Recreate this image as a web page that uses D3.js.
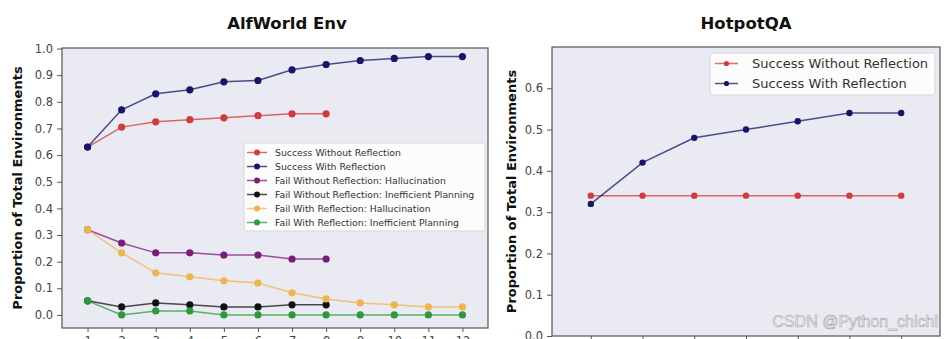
<!DOCTYPE html>
<html lang="en">

<head>
    <meta charset="UTF-8">
    <title>Reflection results</title>
    <script src="https://cdn.jsdelivr.net/npm/d3@7"></script>
    <style>
        body { margin: 0; background: #fff; }
        svg { display: block; font-family: "DejaVu Sans", sans-serif; }
    </style>
</head>

<body>
    <script>
    var width = 946;
    var height = 339;

    // AlfWorld trials 1..12
    var alfTrials = [1, 2, 3, 4, 5, 6, 7, 8, 9, 10, 11, 12];
    var alfSuccessNoRefl = [0.63, 0.705, 0.725, 0.733, 0.74, 0.748, 0.755, 0.755];
    var alfSuccessRefl = [0.63, 0.77, 0.83, 0.845, 0.875, 0.88, 0.92, 0.94, 0.955, 0.963, 0.97, 0.97];
    var alfFailNoReflHalluc = [0.32, 0.27, 0.233, 0.233, 0.225, 0.225, 0.21, 0.21];
    var alfFailNoReflPlan = [0.053, 0.03, 0.045, 0.038, 0.03, 0.03, 0.038, 0.038];
    var alfFailReflHalluc = [0.32, 0.233, 0.158, 0.143, 0.128, 0.12, 0.083, 0.06, 0.045, 0.038, 0.03, 0.03];
    var alfFailReflPlan = [0.053, 0, 0.015, 0.015, 0, 0, 0, 0, 0, 0, 0, 0];
    var alfYTicks = [0.0, 0.1, 0.2, 0.3, 0.4, 0.5, 0.6, 0.7, 0.8, 0.9, 1.0];

    // HotpotQA trials 1..7
    var hotTrials = [1, 2, 3, 4, 5, 6, 7];
    var hotSuccessNoRefl = [0.34, 0.34, 0.34, 0.34, 0.34, 0.34, 0.34];
    var hotSuccessRefl = [0.32, 0.42, 0.48, 0.50, 0.52, 0.54, 0.54];
    var hotYTicks = [0.0, 0.1, 0.2, 0.3, 0.4, 0.5, 0.6];

    var colors = {
        red: '#d23b3b',
        navy: '#15156a',
        purple: '#7b1b7b',
        black: '#111111',
        gold: '#f0b44e',
        green: '#2c9a3c'
    };

    var svg = d3.select('body')
        .append('svg')
        .attr('width', width)
        .attr('height', height);

    // draw one panel: frame, axes, series, legend
    function panel(opt) {
        var x = d3.scaleLinear().domain(opt.xDomain).range([opt.left, opt.right]);
        var y = d3.scaleLinear().domain(opt.yDomain).range([opt.bottom, opt.top]);
        var g = svg.append('g');

        g.append('rect')
            .attr('x', opt.left)
            .attr('y', opt.top)
            .attr('width', opt.right - opt.left)
            .attr('height', opt.bottom - opt.top)
            .attr('fill', '#eaeaf2');

        var yAxis = g.append('g')
            .attr('transform', 'translate(' + opt.left + ',0)')
            .call(d3.axisLeft(y).tickValues(opt.yTicks).tickFormat(d3.format('.1f')).tickSize(5).tickPadding(4));
        var xAxis = g.append('g')
            .attr('transform', 'translate(0,' + opt.bottom + ')')
            .call(d3.axisBottom(x).tickValues(opt.xTicks).tickSize(4).tickPadding(5));
        [yAxis, xAxis].forEach(function(a) {
            a.select('.domain').remove();
            a.selectAll('line').attr('stroke', '#555');
            a.selectAll('text')
                .attr('fill', '#444')
                .attr('font-size', '11.5px')
                .attr('font-family', '"DejaVu Sans", sans-serif');
        });

        g.append('rect')
            .attr('x', opt.left)
            .attr('y', opt.top)
            .attr('width', opt.right - opt.left)
            .attr('height', opt.bottom - opt.top)
            .attr('fill', 'none')
            .attr('stroke', '#555')
            .attr('stroke-width', 1.2);

        var line = d3.line()
            .x(function(d, i) { return x(opt.xTicks[i]); })
            .y(function(d) { return y(d); });

        opt.series.forEach(function(s) {
            g.append('path')
                .datum(s.values)
                .attr('d', line)
                .attr('fill', 'none')
                .attr('stroke', s.color)
                .attr('stroke-opacity', 0.75)
                .attr('stroke-width', 1.5);
            g.selectAll(null)
                .data(s.values)
                .enter()
                .append('circle')
                .attr('cx', function(d, i) { return x(opt.xTicks[i]); })
                .attr('cy', function(d) { return y(d); })
                .attr('r', opt.markerR)
                .attr('fill', s.color);
        });

        // title
        svg.append('text')
            .attr('x', opt.titleX)
            .attr('y', 29)
            .attr('text-anchor', 'middle')
            .attr('font-size', '16.5px')
            .attr('font-weight', 'bold')
            .attr('fill', '#111')
            .text(opt.title);

        // y label
        svg.append('text')
            .attr('transform', 'translate(' + opt.yLabelX + ',' + ((opt.top + opt.bottom) / 2) + ') rotate(-90)')
            .attr('text-anchor', 'middle')
            .attr('font-size', '13px')
            .attr('font-weight', 'bold')
            .attr('fill', '#111')
            .text('Proportion of Total Environments');

        // legend
        var L = opt.legend;
        var lg = svg.append('g');
        lg.append('rect')
            .attr('x', L.x)
            .attr('y', L.y)
            .attr('width', L.w)
            .attr('height', L.h)
            .attr('rx', 2)
            .attr('fill', '#fff')
            .attr('fill-opacity', 0.85)
            .attr('stroke', '#d8d8d8');
        var item = lg.selectAll('g.item')
            .data(opt.series)
            .enter()
            .append('g')
            .attr('class', 'item')
            .attr('transform', function(d, i) {
                return 'translate(' + L.x + ',' + (L.y + L.first + i * L.step) + ')';
            });
        item.append('line')
            .attr('x1', L.lx1)
            .attr('x2', L.lx2)
            .attr('stroke', function(d) { return d.color; })
            .attr('stroke-opacity', 0.75)
            .attr('stroke-width', 1.5);
        item.append('circle')
            .attr('cx', (L.lx1 + L.lx2) / 2)
            .attr('r', L.r)
            .attr('fill', function(d) { return d.color; });
        item.append('text')
            .attr('x', L.tx)
            .attr('dy', '0.35em')
            .attr('font-size', L.fs)
            .attr('fill', '#333')
            .text(function(d) { return d.name; });
    }

    panel({
        title: 'AlfWorld Env',
        titleX: 287,
        yLabelX: 22,
        left: 62, right: 488, top: 48, bottom: 328,
        xDomain: [0.25, 12.75],
        yDomain: [-0.049, 1.002],
        xTicks: alfTrials,
        yTicks: alfYTicks,
        markerR: 3.6,
        series: [
            { name: 'Success Without Reflection', values: alfSuccessNoRefl, color: colors.red },
            { name: 'Success With Reflection', values: alfSuccessRefl, color: colors.navy },
            { name: 'Fail Without Reflection: Hallucination', values: alfFailNoReflHalluc, color: colors.purple },
            { name: 'Fail Without Reflection: Inefficient Planning', values: alfFailNoReflPlan, color: colors.black },
            { name: 'Fail With Reflection: Hallucination', values: alfFailReflHalluc, color: colors.gold },
            { name: 'Fail With Reflection: Inefficient Planning', values: alfFailReflPlan, color: colors.green }
        ],
        legend: { x: 244, y: 143, w: 241, h: 88, first: 9.5, step: 14, lx1: 3, lx2: 23, r: 3, tx: 31, fs: '9.3px' }
    });

    panel({
        title: 'HotpotQA',
        titleX: 746,
        yLabelX: 516,
        left: 552, right: 940, top: 47, bottom: 336,
        xDomain: [0.25, 7.75],
        yDomain: [0, 0.7],
        xTicks: hotTrials,
        yTicks: hotYTicks,
        markerR: 3.2,
        series: [
            { name: 'Success Without Reflection', values: hotSuccessNoRefl, color: colors.red },
            { name: 'Success With Reflection', values: hotSuccessRefl, color: colors.navy }
        ],
        legend: { x: 710, y: 53, w: 225, h: 42, first: 10.5, step: 20, lx1: 5, lx2: 28, r: 2.6, tx: 42, fs: '13px' }
    });

    // watermark
    svg.append('text')
        .attr('x', 938)
        .attr('y', 327)
        .attr('text-anchor', 'end')
        .attr('font-family', '"Liberation Sans", sans-serif')
        .attr('font-size', '16px')
        .attr('fill', '#f2f2f2')
        .attr('stroke', '#9a9a9a')
        .attr('stroke-width', 0.5)
        .text('CSDN @Python_chichi');
    </script>
</body>

</html>
